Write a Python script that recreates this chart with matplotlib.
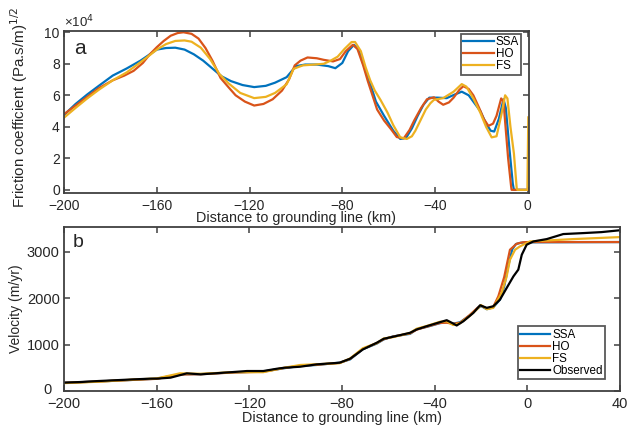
import matplotlib
matplotlib.use("Agg")
import matplotlib.pyplot as plt
from matplotlib.transforms import ScaledTranslation

plt.rcParams['font.family'] = ['Liberation Sans', 'DejaVu Sans']

# ---------------- Panel a: friction coefficient (x 1e4) ----------------
ssa_a_x = [-200, -195, -190, -185, -179, -173, -167, -163, -160, -156, -152, -148, -144, -140,
           -136, -132, -128, -123, -118, -113, -109, -104, -100, -96, -91, -86, -83, -80, -77.5,
           -75, -73, -71, -68, -65.5, -62, -58, -55, -52.5, -50, -47.5, -45, -42.5, -39, -35,
           -31.5, -28.5, -25.5, -23, -20.5, -18, -16, -14.5, -12.5, -10.5, -9.5, -8, -6.5, -6,
           0.5]
ssa_a_y = [4.75, 5.45, 6.05, 6.6, 7.25, 7.7, 8.2, 8.6, 8.9, 9.0, 9.02, 8.9, 8.6, 8.2,
           7.7, 7.2, 6.9, 6.65, 6.52, 6.6, 6.8, 7.15, 7.85, 7.95, 7.95, 7.85, 7.72, 8.05, 8.8,
           9.2, 8.9, 8.0, 6.75, 5.6, 4.7, 3.75, 3.23, 3.3, 3.9, 4.7, 5.4, 5.85, 5.85, 5.82,
           6.05, 6.23, 6.0, 5.5, 5.0, 4.2, 3.75, 3.7, 4.5, 5.75, 5.2, 2.7, 0.4, 0.0,
           0.0]

ho_a_x = [-200, -195, -190, -185, -179, -174, -170, -166, -163, -160, -157, -154, -151, -148.5,
          -145, -142, -139, -136, -132.5, -129, -126, -122, -118, -114, -110, -106, -103, -100.5,
          -98, -95, -91, -88, -84, -81, -78.5, -75.5, -73.5, -71, -69, -65, -62, -59, -56.5,
          -53.5, -51, -49, -46, -43.5, -40.5, -38.5, -36.5, -34, -32, -29.5, -27.8, -25.5,
          -23.5, -21, -19, -17, -15, -13.5, -11.5, -10.5, -8.5, -7.2, -7, 0.5]
ho_a_y = [4.8, 5.35, 5.9, 6.45, 6.95, 7.25, 7.55, 8.05, 8.6, 9.05, 9.45, 9.78, 9.95, 10.0,
          9.9, 9.6, 9.0, 8.2, 7.1, 6.5, 6.0, 5.6, 5.35, 5.45, 5.75, 6.3, 7.0, 7.9,
          8.2, 8.4, 8.35, 8.25, 8.15, 8.3, 8.8, 9.2, 8.95, 7.9, 6.9, 5.1, 4.4, 3.85, 3.35,
          3.27, 3.8, 4.4, 5.2, 5.75, 5.87, 5.6, 5.4, 5.55, 5.85, 6.35, 6.58, 6.4,
          6.0, 5.2, 4.5, 4.06, 4.2, 4.7, 5.8, 5.6, 2.0, 0.2, 0.0, 0.0]

fs_a_x = [-200, -195, -190, -185, -179, -173, -167, -163, -160, -156, -152, -148, -145, -141,
          -137, -133, -129, -124, -118, -113, -109, -104, -101, -97, -92, -88, -85, -82, -79,
          -76, -74.5, -72, -70, -68, -66, -63.5, -60.5, -58, -55, -52.2, -50, -48.5, -46, -44,
          -42, -40.5, -36.5, -32, -28.5, -26.5, -23.5, -20.5, -18, -15.6, -13.5, -11.5, -9.8,
          -8.8, -7.5, -6, -4.8, -4.5, -0.2, 0.2]
fs_a_y = [4.58, 5.2, 5.8, 6.35, 6.95, 7.45, 8.1, 8.55, 8.9, 9.25, 9.45, 9.48, 9.4, 9.02,
          8.3, 7.35, 6.75, 6.15, 5.82, 5.9, 6.15, 6.7, 7.68, 7.9, 7.95, 8.0, 8.2, 8.45, 8.95,
          9.38, 9.38, 8.8, 7.8, 6.96, 6.3, 5.7, 4.9, 4.1, 3.33, 3.23, 3.4, 3.75, 4.5, 5.1,
          5.5, 5.71, 5.82, 6.23, 6.71, 6.55, 5.8, 4.9, 4.0, 3.33, 3.4, 4.7, 6.0,
          5.8, 4.0, 2.3, 0.1, 0.0, 0.0, 4.6]

# ---------------- Panel b: velocity (m/yr) ----------------
obs_x = [-200, -193, -185, -170, -163, -160, -154, -147, -141, -135, -127, -121, -114, -108,
         -105, -98, -91, -81, -76.5, -71, -65, -62, -58, -50.6, -47.8, -43.4, -37.7, -34.8,
         -32.6, -30.5, -27.6, -23.3, -20.4, -17.5, -14.7, -11.8, -8.9, -6.0, -3.9, -2.4, -0.3,
         2.6, 8.4, 15.5, 24.2, 32, 40]
obs_y = [180, 193, 215, 250, 265, 266, 287, 380, 358, 380, 408, 430, 430, 480,
         500, 523, 573, 609, 695, 895, 1038, 1124, 1167, 1253, 1324, 1395, 1481, 1524,
         1468, 1410, 1502, 1682, 1845, 1790, 1824, 1968, 2219, 2468, 2612, 2933, 3148,
         3219, 3270, 3378, 3399, 3420, 3460]

ssa_b_x = [-200, -185, -170, -160, -150, -141, -127, -114, -105, -98, -91, -81, -76.5, -71,
           -65, -62, -58, -50.6, -47.8, -43.4, -37.7, -34.8, -32, -29, -25, -21.5, -20, -17.5,
           -14.7, -11.8, -10, -8.2, -6.5, -5, -3, 0, 40]
ssa_b_y = [175, 205, 240, 265, 360, 365, 400, 420, 490, 540, 560, 610, 680, 900,
           1020, 1110, 1175, 1230, 1330, 1380, 1460, 1480, 1450, 1480, 1620, 1780, 1830, 1760,
           1800, 1968, 2250, 2700, 3050, 3160, 3190, 3200, 3206]

ho_b_x = [-200, -185, -170, -160, -150, -141, -127, -114, -105, -98, -91, -81, -76.5, -71,
          -65, -62, -58, -50.6, -47.8, -43.4, -37.7, -34.8, -32, -29, -25, -21.5, -20, -17.5,
          -14.7, -12.5, -10, -7.5, -4.6, -2, 0, 40]
ho_b_y = [175, 205, 240, 262, 355, 362, 398, 415, 495, 545, 565, 605, 690, 905,
          1030, 1115, 1170, 1240, 1320, 1385, 1465, 1470, 1445, 1470, 1630, 1790, 1840, 1770,
          1810, 2040, 2450, 3040, 3170, 3200, 3206, 3206]

fs_b_x = [-200, -185, -170, -160, -150, -141, -127, -114, -105, -98, -91, -81, -76.5, -71,
          -65, -62, -58, -50.6, -47.8, -43.4, -37.7, -34.8, -32, -29, -25, -21.5, -20, -17.5,
          -14.7, -11.1, -9, -7.5, -5.3, -3.2, 1.1, 20, 40]
fs_b_y = [170, 200, 245, 270, 380, 370, 405, 405, 500, 560, 575, 600, 700, 920,
          1030, 1130, 1160, 1250, 1340, 1400, 1490, 1500, 1420, 1460, 1610, 1770, 1850, 1760,
          1790, 2110, 2450, 2826, 3040, 3112, 3219, 3270, 3313]

colors = {"SSA": "#0072BD", "HO": "#D95319", "FS": "#EDB120", "Observed": "#000000"}

W, H = 627, 428
fig = plt.figure(figsize=(W / 100, H / 100), dpi=100)

ax1 = fig.add_axes([64 / W, 1 - 193 / H, (529 - 64) / W, (193 - 31) / H])
ax2 = fig.add_axes([64 / W, 1 - 391 / H, (620 - 64) / W, (391 - 227) / H])

lw = 1.6
ax1.plot(ssa_a_x, ssa_a_y, color=colors["SSA"], lw=lw, label="SSA")
ax1.plot(ho_a_x, ho_a_y, color=colors["HO"], lw=lw, label="HO")
ax1.plot(fs_a_x, fs_a_y, color=colors["FS"], lw=lw, label="FS")
ax1.set_xlim(-200, 0.5)
ax1.set_ylim(-0.2, 10.08)
ax1.set_xticks([-200, -160, -120, -80, -40, 0])
ax1.set_yticks([0, 2, 4, 6, 8, 10])

ax2.plot(ssa_b_x, ssa_b_y, color=colors["SSA"], lw=lw, label="SSA")
ax2.plot(ho_b_x, ho_b_y, color=colors["HO"], lw=lw, label="HO")
ax2.plot(fs_b_x, fs_b_y, color=colors["FS"], lw=lw, label="FS")
ax2.plot(obs_x, obs_y, color=colors["Observed"], lw=lw, label="Observed")
ax2.set_xlim(-200, 40)
ax2.set_ylim(0, 3530)
ax2.set_xticks([-200, -160, -120, -80, -40, 0, 40])
ax2.set_yticks([0, 1000, 2000, 3000])

spine_c = "#404040"
for ax, ls in ((ax1, 10), (ax2, 10.5)):
    for s in ax.spines.values():
        s.set_color(spine_c)
        s.set_linewidth(1.3)
    ax.tick_params(direction="in", top=True, right=True, length=4, width=1.1,
                   color=spine_c, labelsize=ls, labelcolor="#262626")
    ax.tick_params(axis="x", pad=4.2)
    ax.tick_params(axis="y", pad=3)

ax1.set_xlabel("Distance to grounding line (km)", fontsize=10.4, color="#262626", labelpad=-1)
ax1.set_ylabel("Friction coefficient (Pa.s/m)$^{1/2}$", fontsize=10.9, color="#262626", labelpad=1)
ax1.yaxis.set_label_coords(-0.073, 0.53)
ax1.text(0.0, 1.005, "×10$^4$", transform=ax1.transAxes, fontsize=9.5, color="#262626",
         ha="left", va="bottom")
ax1.text(0.022, 0.95, "a", transform=ax1.transAxes, fontsize=15, color="#262626",
         ha="left", va="top")

ax2.set_xlabel("Distance to grounding line (km)", fontsize=10.4, color="#262626", labelpad=0)
ax2.set_ylabel("Velocity (m/yr)", fontsize=10, color="#262626", labelpad=3)
ax2.text(0.016, 0.96, "b", transform=ax2.transAxes, fontsize=14, color="#262626",
         ha="left", va="top")

# the "0" label of panel b sits a little to the left and up, as in the reference
fig.canvas.draw()
lab0 = ax2.get_yticklabels()[0]
lab0.set_transform(lab0.get_transform() + ScaledTranslation(-8 / 100, 3 / 100, fig.dpi_scale_trans))

leg_kw = dict(fontsize=8.4, frameon=True, fancybox=False, edgecolor="#303030",
              handlelength=2.6, handletextpad=0.15, borderpad=0.2, labelspacing=0.0,
              borderaxespad=0.0)
l1 = ax1.legend(loc="upper right", bbox_to_anchor=(0.983, 0.981), **leg_kw)
l1.get_frame().set_linewidth(1.3)
l2 = ax2.legend(loc="lower right", bbox_to_anchor=(0.973, 0.073), **leg_kw)
l2.get_frame().set_linewidth(1.3)

fig.savefig("out.png", dpi=100)
